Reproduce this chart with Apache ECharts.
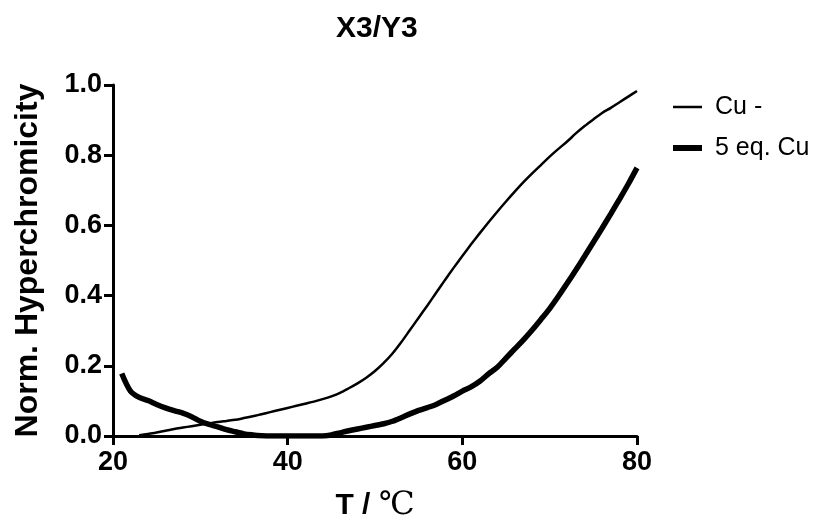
<!DOCTYPE html>
<html>
<head>
<meta charset="utf-8">
<script src="https://cdn.jsdelivr.net/npm/echarts@6/dist/echarts.min.js"></script>
<style>
html,body{margin:0;padding:0;background:#fff;}
#chart{width:820px;height:523px;}
</style>
</head>
<body>
<div id="chart"></div>
<script>
// ---- data ----
const titleText = 'X3/Y3';
const seriesNames = ['Cu -', '5 eq. Cu'];
const xTicks = [20, 40, 60, 80];
const yTicks = [0.0, 0.2, 0.4, 0.6, 0.8, 1.0];

const tempCuFree = [23,24,25,26,27,28,29,30,31,32,33,34,35,36,37,38,39,40,41,42,43,44,45,46,47,48,49,50,51,52,53,54,55,56,57,58,59,60,61,62,63,64,65,66,67,68,69,70,71,72,73,74,75,76,77,78,79,80];
const valCuFree = [0.002,0.006,0.010,0.015,0.020,0.024,0.028,0.032,0.036,0.040,0.043,0.046,0.051,0.056,0.062,0.068,0.074,0.080,0.086,0.092,0.098,0.105,0.113,0.123,0.136,0.150,0.166,0.185,0.208,0.235,0.267,0.302,0.337,0.372,0.408,0.444,0.479,0.513,0.546,0.578,0.609,0.639,0.668,0.696,0.723,0.748,0.772,0.796,0.818,0.839,0.862,0.883,0.902,0.920,0.935,0.951,0.967,0.983];

const tempCu5 = [21,22,23,24,25,26,27,28,29,30,31,32,33,34,35,36,37,38,39,40,41,42,43,44,45,46,47,48,49,50,51,52,53,54,55,56,57,58,59,60,61,62,63,64,65,66,67,68,69,70,71,72,73,74,75,76,77,78,79,80];
const valCu5 = [0.178,0.128,0.110,0.101,0.090,0.080,0.072,0.065,0.055,0.042,0.033,0.026,0.018,0.012,0.006,0.003,0.001,0.0,0.0,0.0,0.0,0.0,0.0,0.0,0.003,0.009,0.015,0.020,0.025,0.030,0.035,0.042,0.052,0.063,0.073,0.081,0.090,0.102,0.114,0.128,0.140,0.156,0.177,0.196,0.222,0.248,0.274,0.302,0.332,0.363,0.398,0.435,0.473,0.512,0.552,0.592,0.633,0.675,0.718,0.764];

const pairs = (xs, ys) => xs.map((x, i) => [x, ys[i]]);

const chart = echarts.init(document.getElementById('chart'), null, {renderer: 'canvas'});
const axisFont = '"Liberation Sans", Arial, sans-serif';

chart.setOption({
  backgroundColor: '#ffffff',
  animation: false,
  title: {
    text: titleText,
    left: 331,
    top: 9,
    textStyle: {fontFamily: axisFont, fontWeight: 'bold', fontSize: 30, color: '#000'}
  },
  legend: {
    orient: 'vertical',
    left: 668,
    top: 89,
    itemWidth: 29,
    itemHeight: 26,
    itemGap: 15,
    symbolKeepAspect: true,
    data: [
      {name: seriesNames[0], icon: 'path://M0,0 H29 V2.5 H0 Z'},
      {name: seriesNames[1], icon: 'path://M0,0 H29 V6 H0 Z'}
    ],
    textStyle: {fontFamily: axisFont, fontSize: 25, color: '#000', padding: [0, 0, 0, 8], lineHeight: 26}
  },
  grid: {left: 113, right: 183, top: 85, bottom: 87, containLabel: false, outerBoundsMode: 'none'},
  xAxis: {
    type: 'value',
    min: xTicks[0],
    max: xTicks[xTicks.length - 1],
    interval: 20,
    name: '{b|T }{s|/ }{c|℃}',
    nameLocation: 'middle',
    nameGap: 54,
    nameTextStyle: {
      rich: {
        b: {fontFamily: axisFont, fontWeight: 'bold', fontSize: 30, color: '#000'},
        s: {fontFamily: axisFont, fontWeight: 'bold', fontSize: 30, color: '#000'},
        c: {fontFamily: '"Liberation Serif", "DejaVu Serif", "Noto Sans CJK SC", serif', fontSize: 32, color: '#000'}
      }
    },
    axisLine: {show: true, onZero: false, lineStyle: {color: '#000', width: 3}},
    axisTick: {show: true, inside: false, length: 9, lineStyle: {color: '#000', width: 3}},
    axisLabel: {fontFamily: axisFont, fontWeight: 'bold', fontSize: 27, color: '#000', margin: 13},
    splitLine: {show: false}
  },
  yAxis: {
    type: 'value',
    min: yTicks[0],
    max: yTicks[yTicks.length - 1],
    interval: 0.2,
    name: 'Norm. Hyperchromicity',
    nameLocation: 'middle',
    nameGap: 69,
    nameTextStyle: {fontFamily: axisFont, fontWeight: 'bold', fontSize: 32, color: '#000'},
    axisLine: {show: true, onZero: false, lineStyle: {color: '#000', width: 3}},
    axisTick: {show: true, inside: false, length: 9, lineStyle: {color: '#000', width: 3}},
    axisLabel: {fontFamily: axisFont, fontWeight: 'bold', fontSize: 27, color: '#000', margin: 11,
      formatter: v => v.toFixed(1)},
    splitLine: {show: false}
  },
  series: [
    {
      name: seriesNames[0],
      type: 'line',
      data: pairs(tempCuFree, valCuFree),
      smooth: 0.3,
      symbol: 'none',
      showSymbol: false,
      lineStyle: {color: '#000', width: 2.5},
      itemStyle: {color: '#000'},
      z: 3
    },
    {
      name: seriesNames[1],
      type: 'line',
      data: pairs(tempCu5, valCu5),
      smooth: 0.3,
      symbol: 'none',
      showSymbol: false,
      lineStyle: {color: '#000', width: 5.5},
      itemStyle: {color: '#000'},
      z: 2
    }
  ]
});
</script>
</body>
</html>
